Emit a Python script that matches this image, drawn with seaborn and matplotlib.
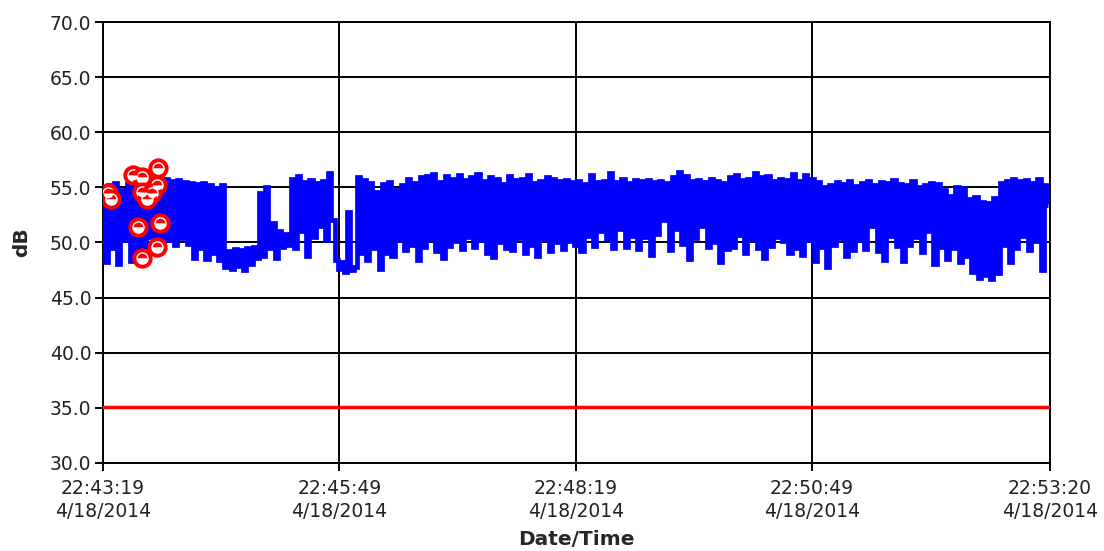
import matplotlib
matplotlib.use('Agg')
import matplotlib.pyplot as plt
import numpy as np
import pandas as pd
import seaborn as sns

# sound level readings, one every 2 s starting 22:43:19
LEVEL_DB = [
    53.5, 48.2, 55.2, 49.5, 55.4, 48.0, 54.8, 50.2, 55.3, 48.3,
    55.2, 49.0, 55.4, 48.2, 54.9, 50.5, 55.3, 49.3, 55.5, 50.1,
    55.8, 50.2, 55.6, 49.8, 55.7, 50.4, 55.5, 49.9, 55.4, 48.6,
    55.3, 49.5, 55.4, 48.5, 55.2, 49.0, 54.9, 48.4, 55.2, 47.8,
    49.2, 47.6, 49.4, 47.9, 49.3, 47.5, 49.5, 48.0, 49.6, 48.6,
    54.5, 48.8, 55.0, 49.5, 51.8, 48.6, 51.0, 49.6, 50.8, 49.8,
    55.8, 49.5, 56.0, 51.0, 55.5, 48.8, 55.7, 50.5, 55.4, 51.5,
    55.6, 50.2, 56.3, 52.0, 48.4, 47.6, 48.2, 47.3, 52.8, 47.5,
    47.8, 55.9, 49.0, 55.7, 48.4, 55.4, 49.5, 54.6, 47.6, 55.3,
    49.0, 55.5, 48.8, 54.8, 50.2, 55.2, 49.3, 55.8, 49.8, 55.4,
    48.4, 55.9, 49.6, 56.0, 50.3, 56.2, 49.2, 55.5, 48.6, 56.0,
    49.7, 55.8, 50.1, 56.1, 49.4, 55.7, 50.5, 55.9, 49.6, 56.2,
    50.2, 55.6, 49.0, 55.9, 48.7, 55.8, 50.0, 55.3, 49.5, 56.0,
    49.3, 55.7, 50.4, 55.8, 49.0, 56.1, 49.8, 55.4, 48.8, 55.6,
    50.3, 55.9, 49.2, 55.8, 50.0, 55.6, 49.4, 55.7, 50.1, 55.5,
    49.8, 55.6, 49.2, 55.3, 50.6, 56.1, 49.7, 55.5, 51.0, 55.6,
    50.3, 56.3, 49.5, 55.5, 51.2, 55.8, 49.6, 55.4, 50.6, 55.7,
    49.4, 55.6, 50.5, 55.7, 48.9, 55.5, 50.8, 55.6, 52.0, 55.4,
    49.3, 55.9, 51.2, 56.4, 49.9, 56.0, 48.5, 55.6, 50.4, 55.7,
    51.5, 55.5, 49.6, 55.8, 50.0, 55.6, 48.2, 55.4, 49.4, 55.9,
    49.6, 56.1, 50.7, 55.7, 49.0, 55.8, 50.3, 56.3, 49.5, 55.9,
    48.6, 56.0, 49.7, 55.6, 50.5, 55.8, 50.1, 55.7, 49.0, 56.2,
    49.5, 55.6, 48.9, 56.1, 50.2, 55.8, 48.3, 55.5, 49.6, 55.0,
    47.8, 55.2, 49.8, 55.5, 50.4, 55.3, 48.8, 55.6, 49.3, 55.1,
    50.2, 55.4, 49.4, 55.6, 51.5, 55.2, 49.2, 55.5, 48.4, 55.4,
    50.6, 55.7, 49.7, 55.3, 48.3, 55.2, 49.8, 55.6, 50.5, 55.0,
    49.1, 55.2, 51.0, 55.4, 48.0, 55.3, 49.6, 54.8, 48.5, 54.2,
    49.5, 55.0, 48.2, 54.9, 48.8, 53.9, 47.3, 54.1, 46.8, 53.7,
    47.0, 53.6, 46.7, 54.0, 47.2, 55.4, 49.8, 55.6, 48.2, 55.8,
    49.5, 55.6, 50.6, 55.7, 49.3, 55.4, 50.1, 55.8, 47.5, 55.2,
    53.4,
]
STEP_S = 2

# flagged events (seconds after start, dB)
EVENT_T = [3, 5, 19, 25, 35, 34, 25, 31, 28, 22, 36, 34, 25]
EVENT_DB = [54.5, 53.9, 56.1, 55.9, 56.8, 55.2, 54.6, 54.5, 53.9, 51.4, 51.8, 49.6, 48.6]

LIMIT_DB = 35.1

XTICK_S = [0, 150, 300, 450, 601]
XTICK_LABELS = ['22:43:19\n4/18/2014', '22:45:49\n4/18/2014', '22:48:19\n4/18/2014',
                '22:50:49\n4/18/2014', '22:53:20\n4/18/2014']
YTICKS = [30, 35, 40, 45, 50, 55, 60, 65, 70]

df = pd.DataFrame({'t': np.arange(len(LEVEL_DB)) * STEP_S, 'dB': LEVEL_DB})
ev = pd.DataFrame({'t': EVENT_T, 'dB': EVENT_DB})

sns.set_style('white')
plt.rcParams['font.family'] = ['DejaVu Sans']
plt.rcParams['path.simplify'] = False

fig = plt.figure(figsize=(11.04, 5.51), dpi=100)
ax = fig.add_axes([0.0933, 0.160, 0.8578, 0.800])

ax.axhline(LIMIT_DB, color='#ff0000', lw=2.5, zorder=3)
sns.lineplot(data=df, x='t', y='dB', ax=ax, color='#0000ff', lw=3.4,
             drawstyle='steps-mid', estimator=None, zorder=4,
             solid_capstyle='butt', solid_joinstyle='miter')
sns.scatterplot(data=ev, x='t', y='dB', ax=ax, marker='o', s=140,
                facecolor='white', edgecolor='#ff0000', linewidth=2.8, zorder=5)
ax.plot(ev['t'], ev['dB'], ls='none', marker='o', ms=7, fillstyle='top',
        markerfacecolor='#ff0000', markerfacecoloralt='white',
        markeredgecolor='none', zorder=6)

ax.set_xlim(0, 601)
ax.set_ylim(30, 70)
ax.set_xticks(XTICK_S)
ax.set_xticklabels(XTICK_LABELS, linespacing=1.3)
ax.set_yticks(YTICKS)
ax.set_yticklabels([f'{v:.1f}' for v in YTICKS])

ax.grid(True, color='black', lw=1.4)
for s in ax.spines.values():
    s.set_color('black')
    s.set_linewidth(1.4)
ax.tick_params(axis='both', direction='out', length=5.5, width=1.4, color='black',
               labelsize=13.5, labelcolor='#222222', bottom=True, left=True)
ax.tick_params(axis='x', pad=6)
ax.tick_params(axis='y', pad=3)

ax.set_xlabel('Date/Time', fontsize=14.5, fontweight='bold', labelpad=6)
ax.set_ylabel('dB', fontsize=14.5, fontweight='bold', labelpad=13)

fig.savefig('out.png', dpi=100)
